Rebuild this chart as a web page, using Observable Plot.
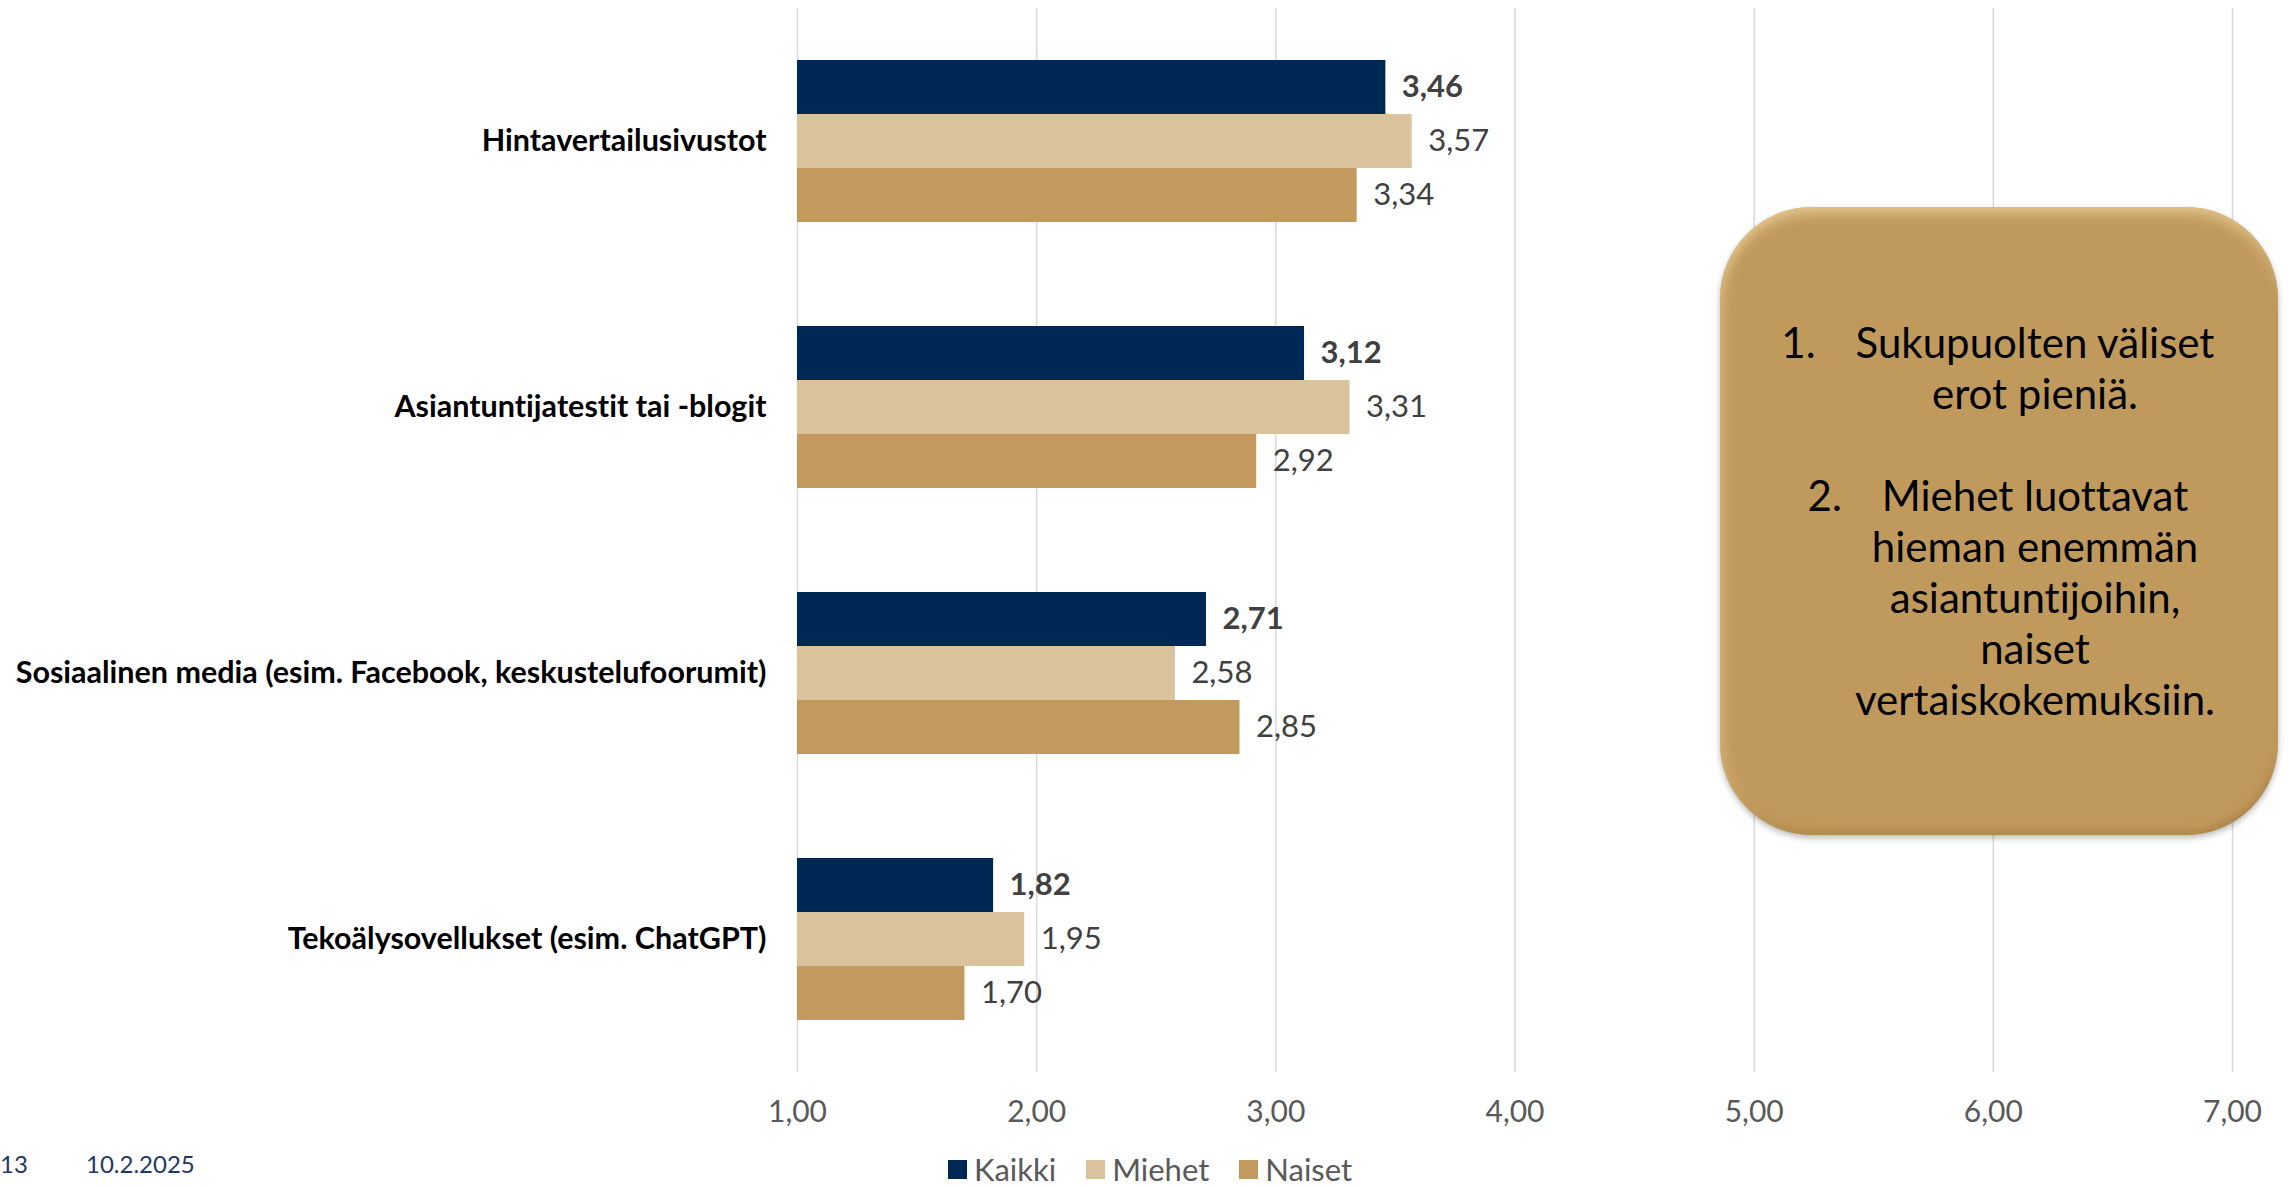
<!DOCTYPE html>
<html lang="fi">
<head>
<meta charset="utf-8">
<script src="https://cdn.jsdelivr.net/npm/d3@7"></script>
<script src="https://cdn.jsdelivr.net/npm/@observablehq/plot@0.6"></script>
<style>
  html, body { margin: 0; padding: 0; background: #fff; }
  #page { position: relative; width: 2289px; height: 1187px; overflow: hidden; font-family: Lato, "Open Sans", sans-serif; font-variant-ligatures: none; }
  #page svg text { font-variant-ligatures: none; }
  #chart { position: absolute; left: 0; top: 0; }
  #legend { position: absolute; left: 948px; top: 1154px; display: flex; align-items: center; font-size: 31px; line-height: 31px; color: #595959; white-space: nowrap; }
  #legend .item { display: flex; align-items: center; margin-right: 30px; }
  #legend .sw { width: 19px; height: 19px; margin-right: 7px; }
  #footer { position: absolute; top: 1149px; font-size: 24px; color: #1F3864; white-space: nowrap; }
  #note {
    position: absolute; left: 1720px; top: 207px; width: 558px; height: 628px;
    border-radius: 92px; background: #C09A5D;
    box-shadow:
      inset 0 10px 14px -4px rgba(240, 214, 160, 0.75),
      inset 10px 0 14px -6px rgba(230, 200, 140, 0.45),
      inset 0 -8px 10px -4px rgba(150, 105, 45, 0.45),
      inset -8px 0 10px -6px rgba(150, 105, 45, 0.35),
      0 3px 6px rgba(0, 0, 0, 0.28);
    display: flex; flex-direction: column; justify-content: center;
    box-sizing: border-box; padding-left: 72px;
    font-size: 42px; line-height: 51px; color: #000; text-align: center;
  }
  #note .t { position: relative; }
  #note .n { position: absolute; right: calc(100% + 40px); top: 0; }
</style>
</head>
<body>
<div id="page">
  <div id="chart"></div>
  <div id="note"></div>
  <div id="legend"></div>
  <div id="footer"></div>
</div>
<script>
// Luottamus tietolähteisiin (keskiarvo asteikolla 1–7)
const categories = [
  "Hintavertailusivustot",
  "Asiantuntijatestit tai -blogit",
  "Sosiaalinen media (esim. Facebook, keskustelufoorumit)",
  "Tekoälysovellukset (esim. ChatGPT)"
];
const series = ["Kaikki", "Miehet", "Naiset"];
const kaikki = [3.46, 3.12, 2.71, 1.82];
const miehet = [3.57, 3.31, 2.58, 1.95];
const naiset = [3.34, 2.92, 2.85, 1.70];
const seriesColors = ["#002855", "#DAC29D", "#C29A5E"];
const xTicks = [1, 2, 3, 4, 5, 6, 7];
const axisStart = 1;

const noteLines = [
  {num: "1.", text: "Sukupuolten väliset"},
  {text: "erot pieniä."},
  {text: ""},
  {num: "2.", text: "Miehet luottavat"},
  {text: "hieman enemmän"},
  {text: "asiantuntijoihin,"},
  {text: "naiset"},
  {text: "vertaiskokemuksiin."}
];
const footerItems = [{text: "13", left: 0}, {text: "10.2.2025", left: 86}];

const valuesBySeries = [kaikki, miehet, naiset];
const rows = [];
categories.forEach((c, i) => {
  series.forEach((s, j) => rows.push({category: c, series: s, value: valuesBySeries[j][i]}));
});

const fmt = d => d.toFixed(2).replace(".", ",");

const chart = Plot.plot({
  width: 2289,
  height: 1140,
  marginLeft: 797,
  marginRight: 57,
  marginTop: 7,
  marginBottom: 67,
  style: {fontFamily: "Lato, 'Open Sans', sans-serif", background: "transparent", fontVariantLigatures: "none"},
  x: {domain: [1, 7]},
  y: {domain: series, paddingInner: 0, paddingOuter: 0.92, axis: null},
  fy: {domain: categories, padding: 0},
  color: {domain: series, range: seriesColors},
  marks: [
    Plot.gridX(xTicks, {stroke: "#D9D9D9", strokeOpacity: 1, strokeWidth: 1.5}),
    Plot.barX(rows, {x1: () => axisStart, x2: "value", y: "series", fy: "category", fill: "series", inset: 0}),
    Plot.text(rows.filter(d => d.series === "Kaikki"), {
      x: "value", y: "series", fy: "category", text: d => fmt(d.value),
      textAnchor: "start", dx: 16, fontSize: 31, fontWeight: "bold", fill: "#404040"
    }),
    Plot.text(rows.filter(d => d.series !== "Kaikki"), {
      x: "value", y: "series", fy: "category", text: d => fmt(d.value),
      textAnchor: "start", dx: 16, fontSize: 31, fill: "#404040"
    }),
    Plot.axisX({ticks: xTicks, tickFormat: fmt, tickSize: 0, tickPadding: 28, fontSize: 30, fill: "#595959", label: null}),
    Plot.axisFy({anchor: "left", tickSize: 0, tickPadding: 31, fontSize: 30.5, fontWeight: "bold", fill: "#000", label: null})
  ]
});
document.getElementById("chart").appendChild(chart);

// Selitteet
const legend = document.getElementById("legend");
series.forEach((s, i) => {
  const item = document.createElement("div");
  item.className = "item";
  const sw = document.createElement("span");
  sw.className = "sw";
  sw.style.background = seriesColors[i];
  item.appendChild(sw);
  item.appendChild(document.createTextNode(s));
  legend.appendChild(item);
});

// Huomautuslaatikko
const note = document.getElementById("note");
noteLines.forEach(l => {
  const line = document.createElement("div");
  if (!l.text) { line.innerHTML = "&nbsp;"; note.appendChild(line); return; }
  const t = document.createElement("span");
  t.className = "t";
  if (l.num) {
    const n = document.createElement("span");
    n.className = "n";
    n.textContent = l.num;
    t.appendChild(n);
  }
  t.appendChild(document.createTextNode(l.text));
  line.appendChild(t);
  note.appendChild(line);
});

// Alatunniste
const footer = document.getElementById("footer");
footerItems.forEach(f => {
  const s = document.createElement("span");
  s.textContent = f.text;
  s.style.position = "absolute";
  s.style.left = f.left + "px";
  footer.appendChild(s);
});
footer.style.left = "0px";
</script>
</body>
</html>
